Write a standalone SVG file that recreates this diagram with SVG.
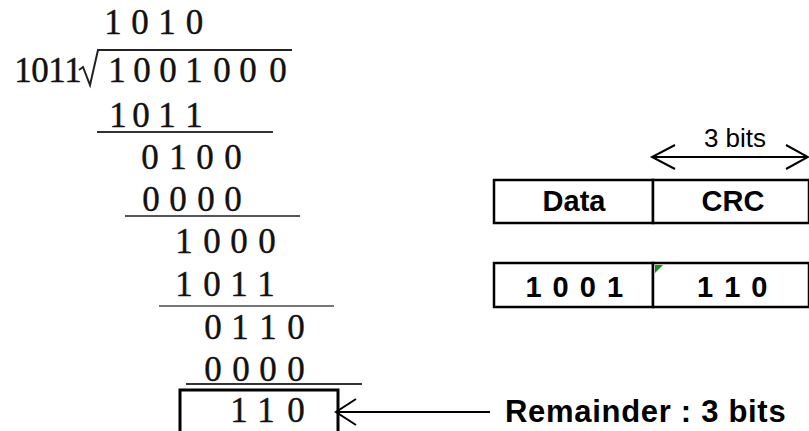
<svg xmlns="http://www.w3.org/2000/svg" width="809" height="431" viewBox="0 0 809 431">
  <defs>
    <style>
      .div { font-family: "Liberation Serif", "DejaVu Serif", serif; font-size: 35px; fill: #111; text-anchor: middle; stroke: #111; stroke-width: 0.4; }
      .lbl { font-family: "Liberation Sans", Arial, sans-serif; font-weight: bold; fill: #000; }
      .cell { fill: #fff; stroke: #000; stroke-width: 2.5; }
      .rule { stroke-width: 2; fill: none; }
      .arrow { stroke: #000; stroke-width: 2; fill: none; }
    </style>
  </defs>
  <rect width="809" height="431" fill="#fff"/>

  <!-- long division of 1001000 by 1011 -->
  <g id="division">
    <text class="div" x="113 140 167 194.5" y="34">1010</text>
    <text class="div" x="23 40 57 73" y="82">1011</text>
    <!-- division bracket (radical with vinculum) -->
    <path d="M79,70 L83,67 L90,85 L98,50 L292,50" fill="none" stroke="#222" stroke-width="2" stroke-linejoin="miter"/>
    <text class="div" x="117 142 168 194 222 248 278" y="82">1001000</text>

    <text class="div" x="118 141 167 194" y="127">1011</text>
    <line class="rule" x1="97" y1="132" x2="273" y2="132" stroke="#333"/>

    <text class="div" x="150 178 205 233" y="169">0100</text>
    <text class="div" x="151 178 206 233" y="211">0000</text>
    <line class="rule" x1="125" y1="216" x2="300" y2="216" stroke="#555" stroke-width="2.5"/>

    <text class="div" x="184 212 239 267" y="253">1000</text>
    <text class="div" x="184 212 239 266" y="296">1011</text>
    <line class="rule" x1="159" y1="306" x2="334" y2="306" stroke="#777" stroke-width="3"/>

    <text class="div" x="213 240 268 296" y="339">0110</text>
    <text class="div" x="213 241 268 296" y="381">0000</text>
    <line class="rule" x1="186" y1="384" x2="362" y2="384" stroke="#333"/>
  </g>

  <!-- remainder box -->
  <g id="remainder">
    <rect x="180" y="390" width="158" height="60" fill="none" stroke="#000" stroke-width="3"/>
    <text class="div" x="239 266 296" y="422">110</text>
  </g>

  <!-- frame layout -->
  <g id="frame-header">
    <rect class="cell" x="494" y="180" width="159" height="43"/>
    <rect class="cell" x="653" y="180" width="156" height="43"/>
    <text class="lbl" x="574" y="211" font-size="29" text-anchor="middle">Data</text>
    <text class="lbl" x="733" y="211" font-size="29" text-anchor="middle">CRC</text>
  </g>

  <g id="frame-values">
    <rect class="cell" x="494" y="263" width="159" height="44"/>
    <rect class="cell" x="653" y="263" width="156" height="44"/>
    <polygon points="655,265 663,265 655,273" fill="#1a8a1a"/>
    <text class="lbl" x="575" y="297" font-size="29" text-anchor="middle" letter-spacing="1.5">1 0 0 1</text>
    <text class="lbl" x="733" y="297" font-size="29" text-anchor="middle" letter-spacing="1.5">1 1 0</text>
  </g>

  <g id="width-label">
    <text x="735" y="147" font-family="Liberation Sans, Arial, sans-serif" font-size="26" text-anchor="middle" fill="#000">3 bits</text>
  </g>

  <g id="remainder-label">
    <text class="lbl" x="505" y="422" font-size="31" letter-spacing="0.7">Remainder : 3 bits</text>
  </g>

  <!-- connectors -->
  <g id="connectors">
    <line class="arrow" x1="652" y1="157" x2="808" y2="157"/>
    <polyline class="arrow" points="675,145 652,157 675,169"/>
    <polyline class="arrow" points="786,145 808,157 786,169"/>
    <line class="arrow" x1="490" y1="412" x2="336" y2="412"/>
    <polyline class="arrow" points="356,399 336,412 356,425"/>
  </g>
</svg>
